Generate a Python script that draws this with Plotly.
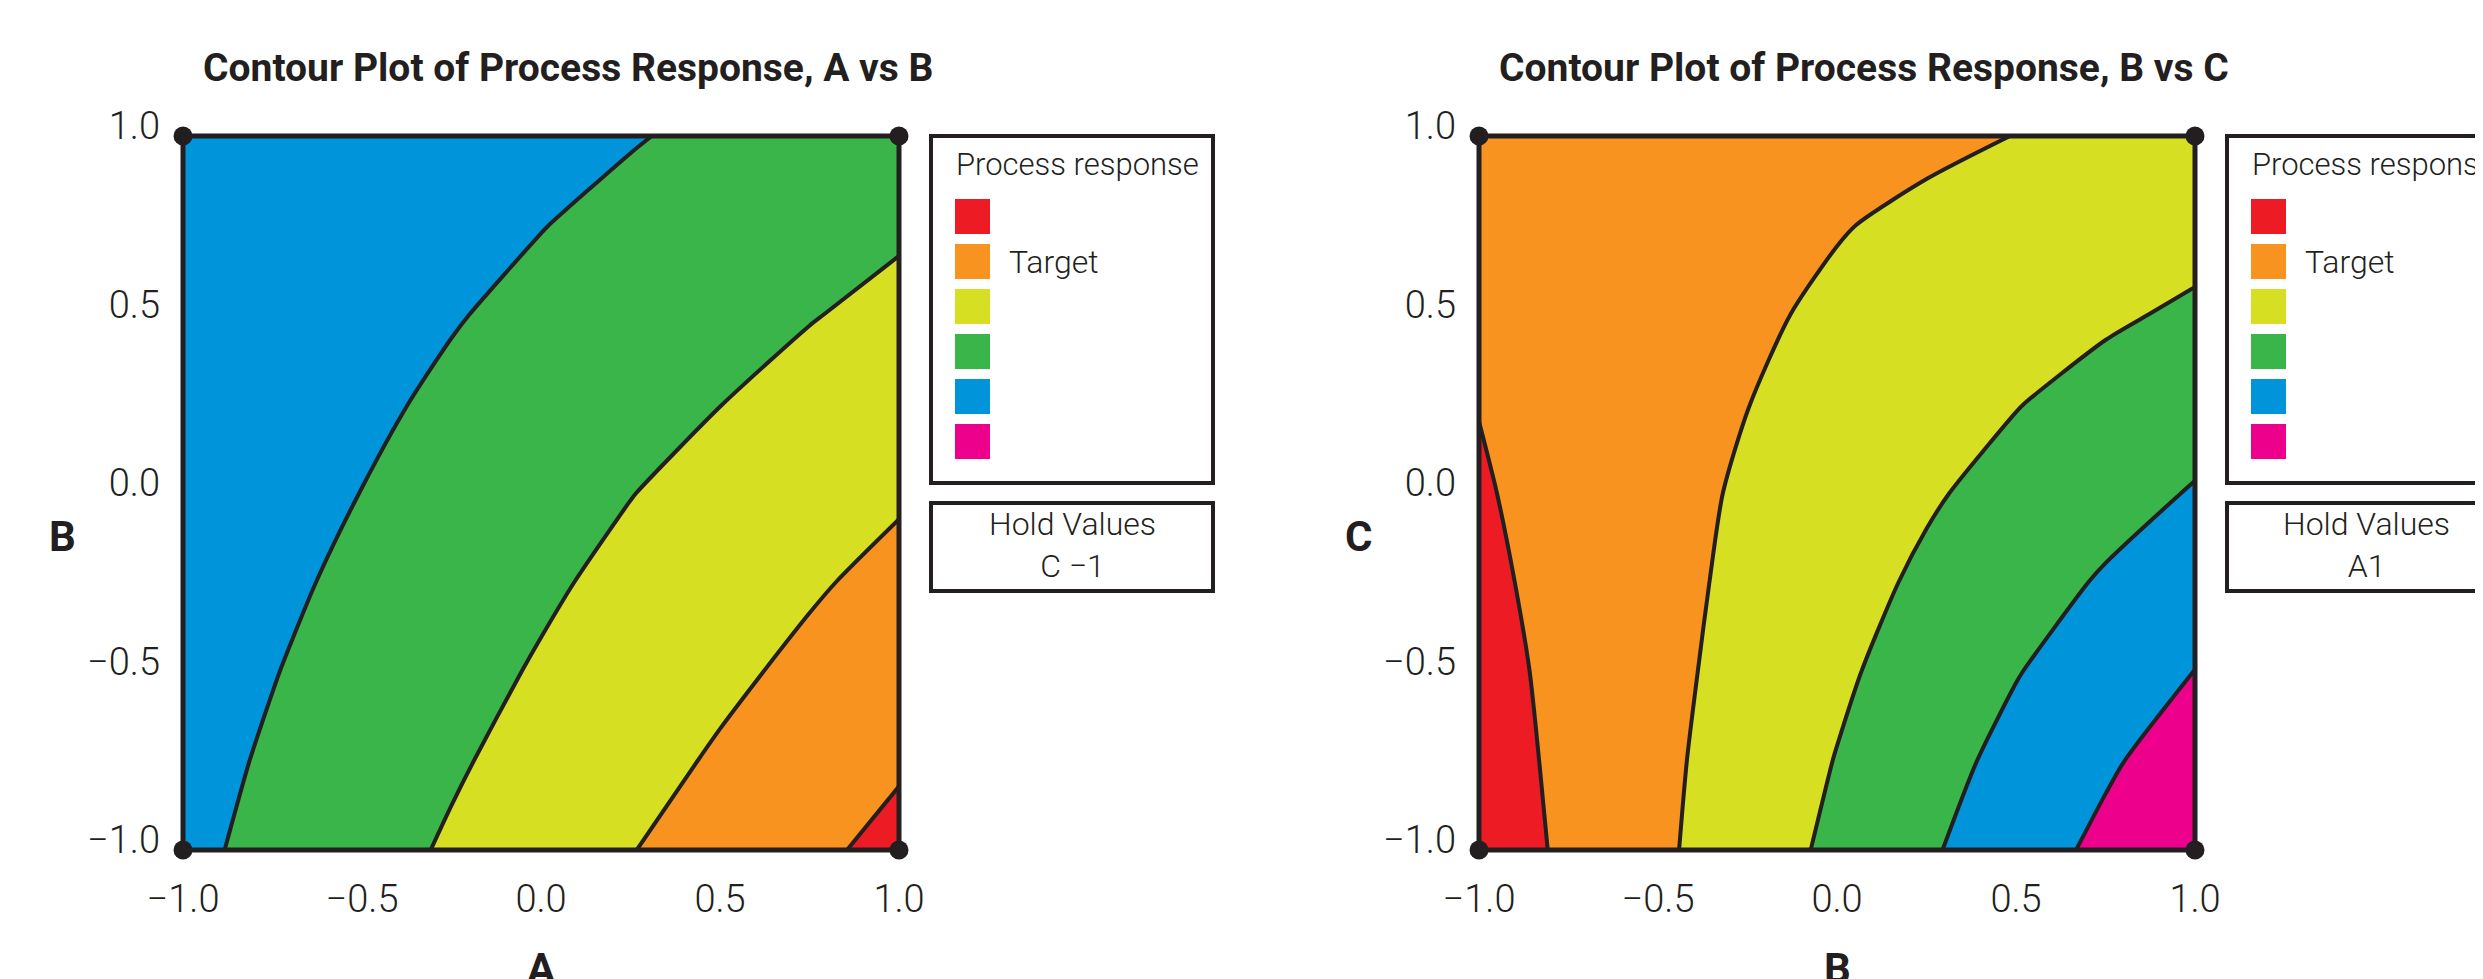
import plotly.graph_objects as go

# The page body has an 8px margin, so the figure is drawn 8px in from the window edge.
WIN_W, WIN_H, BODY = 2483, 979, 8
W, H = WIN_W - BODY, WIN_H - BODY

# ---------------- data ----------------
grid_vals = [-1.0, -0.75, -0.5, -0.25, 0.0, 0.25, 0.5, 0.75, 1.0]
axis_range = [-1.0, 1.0]

# Process response, A (x) vs B (y); rows from B=-1 up to B=1, hold C=-1
z_ab = [
    [1.80, 2.23, 2.67, 3.10, 3.53, 3.97, 4.40, 4.82, 5.25],
    [1.71, 2.10, 2.50, 2.90, 3.30, 3.70, 4.10, 4.50, 4.90],
    [1.60, 1.97, 2.34, 2.71, 3.08, 3.45, 3.82, 4.19, 4.56],
    [1.48, 1.83, 2.18, 2.53, 2.87, 3.22, 3.56, 3.90, 4.24],
    [1.36, 1.68, 2.01, 2.33, 2.65, 2.98, 3.29, 3.59, 3.90],
    [1.28, 1.57, 1.85, 2.14, 2.42, 2.71, 2.99, 3.28, 3.56],
    [1.19, 1.44, 1.69, 1.95, 2.20, 2.45, 2.71, 2.96, 3.21],
    [1.07, 1.30, 1.53, 1.76, 1.98, 2.21, 2.44, 2.66, 2.89],
    [1.10, 1.20, 1.33, 1.54, 1.75, 1.95, 2.16, 2.37, 2.58],
]

# Process response, B (x) vs C (y); rows from C=-1 up to C=1, hold A=1
z_bc = [
    [5.53, 4.84, 4.16, 3.48, 2.80, 2.12, 1.45, 0.78, 0.12],
    [5.41, 4.80, 4.20, 3.58, 2.97, 2.35, 1.73, 1.13, 0.52],
    [5.30, 4.77, 4.24, 3.70, 3.15, 2.60, 2.04, 1.52, 0.99],
    [5.18, 4.73, 4.27, 3.80, 3.33, 2.85, 2.38, 1.91, 1.44],
    [5.08, 4.68, 4.29, 3.89, 3.50, 3.10, 2.71, 2.33, 1.94],
    [4.98, 4.65, 4.33, 4.01, 3.68, 3.35, 3.03, 2.70, 2.38],
    [4.87, 4.62, 4.37, 4.12, 3.87, 3.62, 3.37, 3.12, 2.87],
    [4.79, 4.60, 4.42, 4.23, 4.04, 3.85, 3.67, 3.48, 3.29],
    [4.89, 4.74, 4.59, 4.44, 4.29, 4.14, 3.99, 3.84, 3.69],
]

band_colors = ["#EC008C", "#0095DA", "#39B54A", "#D7DF23", "#F7931E", "#ED1C24"]  # low -> high
legend_colors = ["#ED1C24", "#F7931E", "#D7DF23", "#39B54A", "#0095DA", "#EC008C"]
legend_labels = ["", "Target", "", "", "", ""]
legend_title = "Process response"

tick_vals = [-1.0, -0.5, 0.0, 0.5, 1.0]
tick_text = ["\u22121.0", "\u22120.5", "0.0", "0.5", "1.0"]

titles = ["Contour Plot of Process Response, A vs B", "Contour Plot of Process Response, B vs C"]
x_titles = ["A", "B"]
y_titles = ["B", "C"]
hold_texts = ["Hold Values<br>C \u22121", "Hold Values<br>A1"]

# ---------------- styling ----------------
INK = "#231F20"
FONT = "Roboto, Lato, sans-serif"


def px(x):
    """window pixel x -> paper fraction"""
    return (x - BODY) / W


def py(y):
    """window pixel y (from top) -> paper fraction"""
    return 1 - (y - BODY) / H


def light(size):
    return dict(family=FONT, size=size, color=INK, weight=300)


def bold(size):
    return dict(family=FONT, size=size, color=INK, weight=700)


panels = [
    dict(x0=183, x1=899, leg_x0=931, leg_x1=1213, z=z_ab, title_x=201),
    dict(x0=1479, x1=2195, leg_x0=2227, leg_x1=2505, z=z_bc, title_x=1497),
]
PLOT_TOP, PLOT_BOT = 136, 850

colorscale = [[i / (len(band_colors) - 1), c] for i, c in enumerate(band_colors)]

fig = go.Figure()
shapes = []
annotations = []

for i, p in enumerate(panels):
    xa = "x" if i == 0 else "x2"
    ya = "y" if i == 0 else "y2"
    fig.add_trace(go.Contour(
        x=grid_vals, y=grid_vals, z=p["z"],
        colorscale=colorscale, showscale=False,
        contours=dict(start=1, end=5, size=1, coloring="fill", showlines=True),
        line=dict(color=INK, width=4, smoothing=0.7),
        hoverinfo="skip",
        xaxis=xa, yaxis=ya,
    ))
    fig.add_trace(go.Scatter(
        x=[axis_range[0], axis_range[1], axis_range[0], axis_range[1]],
        y=[axis_range[0], axis_range[0], axis_range[1], axis_range[1]],
        mode="markers", marker=dict(size=19, color=INK),
        cliponaxis=False, hoverinfo="skip", showlegend=False,
        xaxis=xa, yaxis=ya,
    ))
    # frame
    shapes.append(dict(type="rect", xref=f"{xa} domain", yref=f"{ya} domain",
                       x0=0, x1=1, y0=0, y1=1, line=dict(color=INK, width=5), layer="above"))
    # legend box
    shapes.append(dict(type="rect", xref="paper", yref="paper",
                       x0=px(p["leg_x0"]), x1=px(p["leg_x1"]), y0=py(483), y1=py(136),
                       line=dict(color=INK, width=4), fillcolor="white"))
    # hold box
    shapes.append(dict(type="rect", xref="paper", yref="paper",
                       x0=px(p["leg_x0"]), x1=px(p["leg_x1"]), y0=py(591), y1=py(503),
                       line=dict(color=INK, width=4), fillcolor="white"))
    sw_x0 = p["leg_x0"] + 24
    for k, (col, lab) in enumerate(zip(legend_colors, legend_labels)):
        top = 199 + 45 * k
        shapes.append(dict(type="rect", xref="paper", yref="paper",
                           x0=px(sw_x0), x1=px(sw_x0 + 35), y0=py(top + 35), y1=py(top),
                           line=dict(width=0), fillcolor=col))
        if lab:
            annotations.append(dict(text=lab, xref="paper", yref="paper",
                                    x=px(sw_x0 + 52), y=py(top + 18), xanchor="left", yanchor="middle",
                                    showarrow=False, font=light(32)))
    annotations.append(dict(text=legend_title, xref="paper", yref="paper",
                            x=px(sw_x0 - 1), y=py(164), xanchor="left", yanchor="middle",
                            showarrow=False, font=light(31)))
    annotations.append(dict(text=hold_texts[i], xref="paper", yref="paper",
                            x=px((p["leg_x0"] + p["leg_x1"]) / 2), y=py(545), xanchor="center", yanchor="middle",
                            showarrow=False, font=light(32)))
    # titles
    annotations.append(dict(text=titles[i], xref="paper", yref="paper",
                            x=px(p["title_x"]), y=py(68), xanchor="left", yanchor="middle",
                            showarrow=False, font=bold(39)))
    annotations.append(dict(text=y_titles[i], xref="paper", yref="paper",
                            x=px(p["x0"] - 121), y=py(536), xanchor="center", yanchor="middle",
                            showarrow=False, font=bold(42)))
    annotations.append(dict(text=x_titles[i], xref="paper", yref="paper",
                            x=px((p["x0"] + p["x1"]) / 2), y=py(968), xanchor="center", yanchor="middle",
                            showarrow=False, font=bold(42)))

axis_common = dict(range=axis_range, showgrid=False, zeroline=False, showline=False, ticks="",
                   tickvals=tick_vals, ticktext=tick_text, automargin=False,
                   tickfont=light(38), fixedrange=True)

fig.update_layout(
    width=W, height=H, autosize=False,
    margin=dict(l=0, r=0, t=0, b=0, pad=0),
    paper_bgcolor="white", plot_bgcolor="white",
    showlegend=False,
    xaxis=dict(domain=[px(183), px(899)], anchor="y", ticklabelstandoff=23, **axis_common),
    yaxis=dict(domain=[py(PLOT_BOT), py(PLOT_TOP)], anchor="x", ticklabelstandoff=22, ticklabelshift=-10,
               **axis_common),
    xaxis2=dict(domain=[px(1479), px(2195)], anchor="y2", ticklabelstandoff=23, **axis_common),
    yaxis2=dict(domain=[py(PLOT_BOT), py(PLOT_TOP)], anchor="x2", ticklabelstandoff=22, ticklabelshift=-10,
                **axis_common),
    shapes=shapes,
    annotations=annotations,
)

fig.write_html("out.html")
